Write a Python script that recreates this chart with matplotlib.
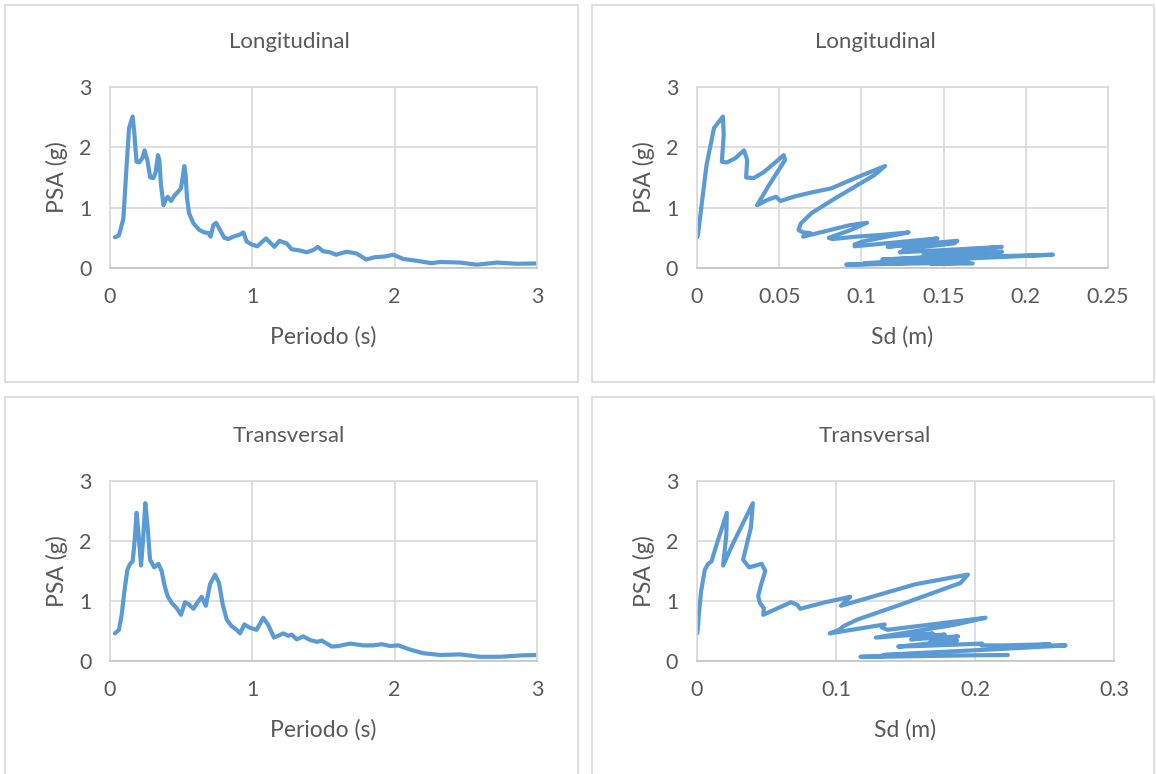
import matplotlib
matplotlib.use("Agg")
import matplotlib.pyplot as plt
from matplotlib.patches import Rectangle
import numpy as np

# longitudinal spectrum
periodo_long = [0.035, 0.063, 0.094, 0.117, 0.134, 0.159, 0.172, 0.186, 0.205, 0.227,
                0.243, 0.262, 0.283, 0.305, 0.321, 0.337, 0.347, 0.358, 0.376, 0.391,
                0.405, 0.429, 0.450, 0.476, 0.499, 0.511, 0.522, 0.531, 0.541, 0.555,
                0.586, 0.628, 0.663, 0.691, 0.707, 0.726, 0.745, 0.773, 0.803, 0.831,
                0.867, 0.909, 0.937, 0.960, 0.995, 1.035, 1.096, 1.155, 1.19, 1.24,
                1.277, 1.335, 1.382, 1.43, 1.46, 1.495, 1.546, 1.588, 1.663, 1.733,
                1.80, 1.862, 1.93, 1.99, 2.06, 2.155, 2.26, 2.32, 2.46, 2.577,
                2.72, 2.86, 3.0]
psa_long = [0.51, 0.54, 0.82, 1.71, 2.32, 2.51, 2.21, 1.76, 1.75, 1.82,
            1.95, 1.79, 1.50, 1.49, 1.59, 1.87, 1.79, 1.38, 1.04, 1.13,
            1.18, 1.11, 1.19, 1.26, 1.32, 1.51, 1.69, 1.54, 1.16, 0.91,
            0.74, 0.63, 0.59, 0.58, 0.52, 0.71, 0.75, 0.63, 0.50, 0.48,
            0.52, 0.55, 0.59, 0.44, 0.39, 0.36, 0.49, 0.35, 0.45, 0.41,
            0.31, 0.29, 0.26, 0.30, 0.35, 0.28, 0.26, 0.22, 0.27, 0.24,
            0.14, 0.18, 0.19, 0.22, 0.15, 0.12, 0.08, 0.10, 0.09, 0.055,
            0.09, 0.07, 0.075]

# transversal spectrum
periodo_trans = [0.035, 0.063, 0.082, 0.101, 0.122, 0.141, 0.159, 0.171, 0.187, 0.201,
                 0.218, 0.230, 0.248, 0.265, 0.281, 0.311, 0.340, 0.363, 0.382, 0.405,
                 0.433, 0.469, 0.499, 0.527, 0.555, 0.586, 0.616, 0.644, 0.673, 0.703,
                 0.738, 0.766, 0.792, 0.820, 0.855, 0.890, 0.914, 0.944, 0.977, 1.03,
                 1.077, 1.112, 1.152, 1.218, 1.253, 1.277, 1.312, 1.358, 1.405, 1.453,
                 1.488, 1.558, 1.605, 1.687, 1.78, 1.85, 1.91, 1.968, 2.026, 2.108,
                 2.20, 2.32, 2.46, 2.60, 2.74, 2.90, 3.0]
psa_trans = [0.46, 0.52, 0.77, 1.16, 1.52, 1.62, 1.66, 1.94, 2.47, 2.10,
             1.59, 1.94, 2.63, 2.22, 1.69, 1.56, 1.62, 1.50, 1.27, 1.08,
             0.97, 0.88, 0.77, 0.98, 0.94, 0.87, 0.98, 1.07, 0.92, 1.28,
             1.44, 1.30, 0.94, 0.69, 0.58, 0.52, 0.46, 0.61, 0.56, 0.52,
             0.72, 0.60, 0.39, 0.46, 0.42, 0.44, 0.36, 0.41, 0.35, 0.32,
             0.34, 0.24, 0.25, 0.29, 0.26, 0.26, 0.28, 0.25, 0.26, 0.19,
             0.13, 0.10, 0.11, 0.07, 0.07, 0.095, 0.10]

# Sd = PSA * g * (T / 2pi)^2  (the right-hand charts plot the same records against Sd)
g = 9.81
sd_long = np.array(psa_long) * g * (np.array(periodo_long) / (2 * np.pi)) ** 2
sd_trans = np.array(psa_trans) * g * (np.array(periodo_trans) / (2 * np.pi)) ** 2

W, H = 1156, 774
BLUE = "#5B9BD5"
TXT = "#595959"
GRID = "#D9D9D9"
FONT = "Lato"

fig = plt.figure(figsize=(W / 100, H / 100), dpi=100)
fig.patch.set_facecolor("white")


def fx(x):
    return x / W


def fy(y):
    return 1 - y / H


# chart frames
for x0, y0, x1, y1 in [(5, 5, 578, 382), (592, 5, 1154, 382),
                       (5, 397, 578, 790), (592, 397, 1154, 790)]:
    fig.patches.append(Rectangle((fx(x0), fy(y1)), fx(x1 - x0), (y1 - y0) / H,
                                 transform=fig.transFigure, fill=False,
                                 edgecolor=GRID, lw=1.2))


def panel(left, right, top, bottom, x, y, xmax, xticks, xticklabels,
          title, xlabel, title_x):
    ax = fig.add_axes([fx(left), fy(bottom), fx(right - left), (bottom - top) / H])
    ax.plot(x, y, color=BLUE, lw=3.0, solid_joinstyle="round", solid_capstyle="round")
    ax.set_xlim(0, xmax)
    ax.set_ylim(0, 3)
    ax.set_xticks(xticks)
    ax.set_xticklabels(xticklabels)
    ax.set_yticks([0, 1, 2, 3])
    ax.grid(True, color=GRID, lw=1.2)
    ax.set_axisbelow(True)
    for s in ax.spines.values():
        s.set_color(GRID)
        s.set_linewidth(1.2)
    ax.spines["bottom"].set_color("#C4C4C4")
    ax.tick_params(length=0, labelsize=15.5, labelcolor=TXT, pad=13.5)
    for lab in ax.get_xticklabels() + ax.get_yticklabels():
        lab.set_fontfamily(FONT)
    cx = (left + right) / 2
    fig.text(fx(title_x), fy(top - 45), title, ha="center", va="center",
             fontsize=16, color=TXT, family=FONT)
    fig.text(fx(cx), fy(bottom + 69), xlabel, ha="center", va="center",
             fontsize=16.5, color=TXT, family=FONT)
    fig.text(fx(left - 53), fy((top + bottom) / 2), "PSA (g)", ha="center",
             va="center", rotation=90, fontsize=16.5, color=TXT, family=FONT)
    return ax


panel(110, 537, 87, 268, periodo_long, psa_long, 3, [0, 1, 2, 3],
      ["0", "1", "2", "3"], "Longitudinal", "Periodo (s)", 289)
panel(697, 1108, 87, 268, sd_long, psa_long, 0.25,
      [0, 0.05, 0.1, 0.15, 0.2, 0.25], ["0", "0.05", "0.1", "0.15", "0.2", "0.25"],
      "Longitudinal", "Sd (m)", 875)
panel(110, 537, 481, 661, periodo_trans, psa_trans, 3, [0, 1, 2, 3],
      ["0", "1", "2", "3"], "Transversal", "Periodo (s)", 289)
panel(697, 1114, 481, 661, sd_trans, psa_trans, 0.3,
      [0, 0.1, 0.2, 0.3], ["0", "0.1", "0.2", "0.3"],
      "Transversal", "Sd (m)", 875)

fig.savefig("out.png", dpi=100)
